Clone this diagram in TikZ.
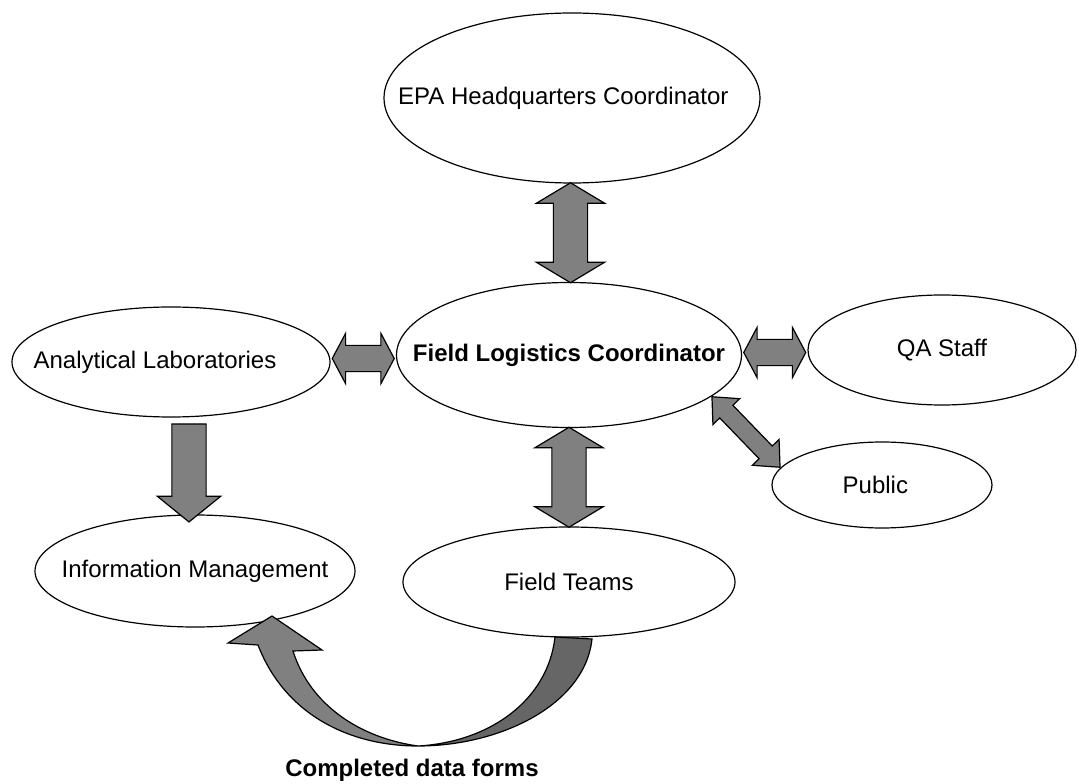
\documentclass[tikz,border=0pt]{standalone}
\usepackage{fontspec}
\setmainfont{Liberation Sans}
\usetikzlibrary{shapes.geometric,shapes.arrows,calc}

\definecolor{blockgray}{RGB}{128,128,128}
\definecolor{backgray}{RGB}{102,102,102}

% text of zero width, so the ellipse keeps its own size
\newcommand{\ovaltext}[1]{\makebox[0pt]{#1}}

\tikzset{
  party/.style={ellipse,draw,line width=0.9pt,fill=white,inner sep=0pt},
  dblarrow/.style={double arrow,draw,line width=0.9pt,fill=blockgray,inner xsep=0pt},
  sglarrow/.style={single arrow,draw,line width=0.9pt,fill=blockgray,inner xsep=0pt},
  bigarrow/.style={dblarrow,inner ysep=12.4pt,double arrow head extend=12.75pt,double arrow tip angle=118,minimum height=75pt},
  sidearrow/.style={dblarrow,inner ysep=9.4pt,double arrow head extend=9pt,double arrow tip angle=124,minimum height=46.5pt}
}

\begin{document}
\begin{tikzpicture}[x=0.75pt,y=0.75pt,yscale=-1,xscale=1]
\fontsize{18}{21.6}\selectfont
\useasboundingbox (0,0) rectangle (1079,784);

% Shape: Ellipses
\node[party,minimum width=282pt,minimum height=127.5pt] (epa) at (572,98) {\ovaltext{EPA Headquarters Coordinator\hspace{13pt}}};
\node[party,minimum width=258.75pt,minimum height=108.75pt] (flc) at (569,355) {\ovaltext{\textbf{Field Logistics Coordinator}}};
\node[party,minimum width=238.5pt,minimum height=82.5pt] (lab) at (171,362) {\ovaltext{Analytical Laboratories\hspace{24pt}}};
\node[party,minimum width=240pt,minimum height=84pt] (info) at (195,571) {\ovaltext{Information Management}};
\node[party,minimum width=249pt,minimum height=82.5pt] (team) at (569,582) {\ovaltext{Field Teams}};
\node[party,minimum width=201pt,minimum height=82.5pt] (qa) at (942,350) {\ovaltext{QA Staff}};
\node[party,minimum width=165pt,minimum height=64.5pt] (pub) at (882,485) {\ovaltext{Public\hspace{10pt}}};

% Block arrows
\node[bigarrow,rotate=90] (epaflc) at ($(epa.south)!0.5!(flc.north)$) {};
\node[bigarrow,rotate=90] (flcteam) at ($(flc.south)!0.5!(team.north)$) {};
\node[sidearrow] (labflc) at ($(lab.east)!0.5!(flc.west)$) {};
\node[sidearrow] (flcqa) at ($(flc.east)!0.5!(qa.west)$) {};
\node[dblarrow,rotate=-46,inner ysep=6.4pt,double arrow head extend=7.1pt,double arrow tip angle=84,minimum height=73.5pt] (flcpub) at (746,432) {};
\node[sglarrow,rotate=-90,inner ysep=12.4pt,single arrow head extend=10.9pt,single arrow tip angle=102,minimum height=73.5pt] (labinfo) at (189,466) {};

% Curved Lines: data forms back to information management
\draw[line width=0.9pt,fill=backgray] (418,746) .. controls (500,746) and (585,705) .. (592,639) -- (555,637) .. controls (548,700) and (490,742) .. (418,746) -- cycle;
\draw[line width=0.9pt,fill=blockgray] (258,645) .. controls (285,715) and (350,746) .. (418,746) .. controls (360,738) and (310,705) .. (293,651) -- (322,650) -- (272,616) -- (228,643) -- cycle;

% Text Node
\node (forms) at (412,770) {\textbf{Completed data forms}};

\end{tikzpicture}
\end{document}
